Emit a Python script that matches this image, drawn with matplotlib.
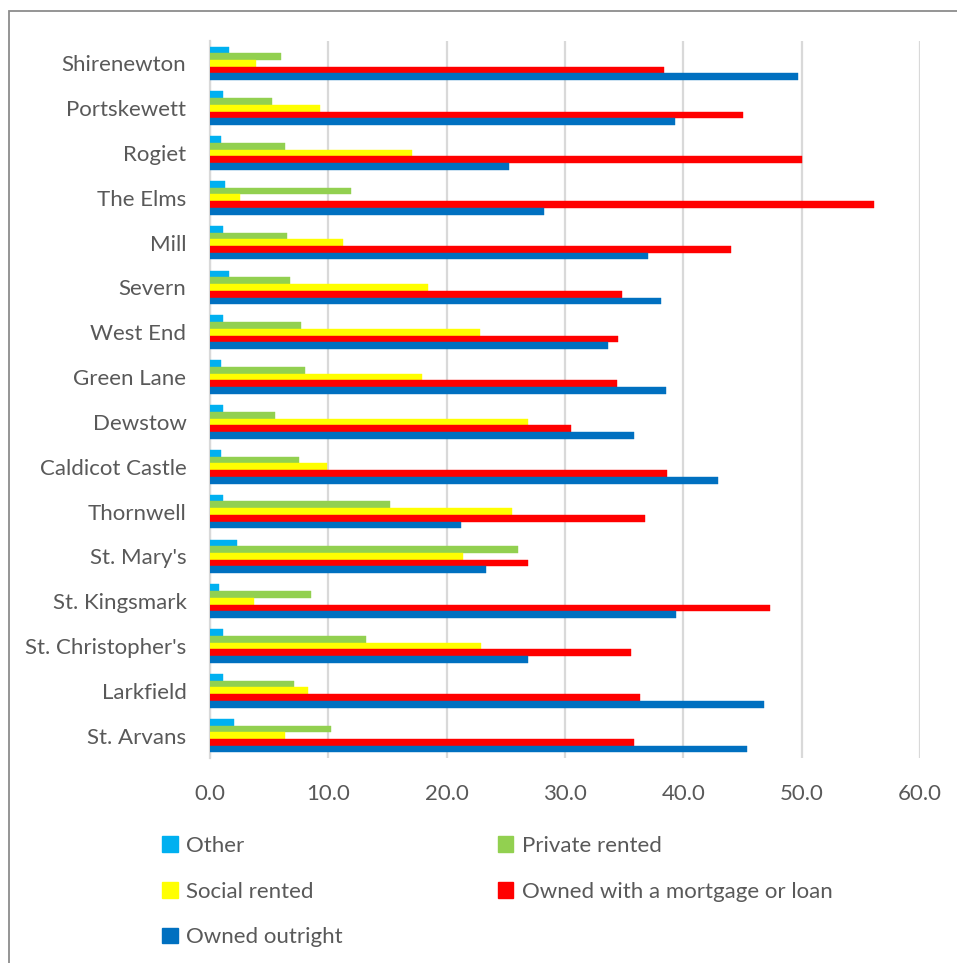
import matplotlib
matplotlib.use("Agg")
import matplotlib.pyplot as plt
import numpy as np
from matplotlib.patches import Rectangle, Patch

categories = ["Shirenewton", "Portskewett", "Rogiet", "The Elms", "Mill", "Severn",
              "West End", "Green Lane", "Dewstow", "Caldicot Castle", "Thornwell",
              "St. Mary's", "St. Kingsmark", "St. Christopher's", "Larkfield", "St. Arvans"]

other = [1.6, 1.1, 0.9, 1.3, 1.1, 1.6, 1.1, 0.9, 1.1, 0.9, 1.1, 2.3, 0.8, 1.1, 1.1, 2.0]
private_rented = [6.0, 5.2, 6.3, 11.9, 6.5, 6.8, 7.7, 8.0, 5.5, 7.5, 15.2, 26.0, 8.5, 13.2, 7.1, 10.2]
social_rented = [3.9, 9.3, 17.1, 2.5, 11.2, 18.4, 22.8, 17.9, 26.9, 9.9, 25.5, 21.4, 3.7, 22.9, 8.3, 6.3]
mortgage = [38.4, 45.0, 50.0, 56.1, 44.0, 34.8, 34.5, 34.4, 30.5, 38.6, 36.8, 26.9, 47.3, 35.6, 36.3, 35.8]
outright = [49.7, 39.3, 25.3, 28.2, 37.0, 38.1, 33.6, 38.5, 35.8, 42.9, 21.2, 23.3, 39.4, 26.9, 46.8, 45.4]

series_names = ["Other", "Private rented", "Social rented",
                "Owned with a mortgage or loan", "Owned outright"]
series_values = [other, private_rented, social_rented, mortgage, outright]
colors = ["#00B0F0", "#92D050", "#FFFF00", "#FF0000", "#0070C0"]
xticks = [0, 10, 20, 30, 40, 50, 60]

plt.rcParams['font.family'] = ['Lato', 'DejaVu Sans']
text_color = "#595959"
fs = 16

W, H = 957, 963
fig = plt.figure(figsize=(W / 100, H / 100), dpi=100)

# outer chart border
fig.patches.append(Rectangle((9 / W, -0.05), 1.2, 1 - 11 / H + 0.05,
                             transform=fig.transFigure, fill=False,
                             edgecolor="#8C8C8C", linewidth=1.3, zorder=0))

ax = fig.add_axes([210 / W, 1 - 758 / H, 710 / W, (758 - 41) / H])

n = len(categories)
y = np.arange(n)
bh = 0.15
offsets = [-2, -1, 0, 1, 2]
for vals, name, c, off in zip(series_values, series_names, colors, offsets):
    ax.barh(y + off * bh, vals, height=bh, color=c, label=name, zorder=3,
            edgecolor=c, linewidth=0.3)

ax.set_ylim(n - 0.5, -0.5)
ax.set_xlim(0, 60)
ax.set_yticks(y)
ax.set_yticklabels(categories)
ax.set_xticks(xticks)
ax.set_xticklabels([f"{t:.1f}" for t in xticks])
ax.tick_params(axis="both", length=0, labelsize=fs, colors=text_color)
ax.tick_params(axis="y", pad=17)
ax.tick_params(axis="x", pad=19)
ax.grid(axis="x", color="#D9D9D9", linewidth=1.6, zorder=0)
for s in ["top", "right", "bottom"]:
    ax.spines[s].set_visible(False)
ax.spines["left"].set_color("#D9D9D9")
ax.spines["left"].set_linewidth(1.6)

# legend (column-major order to reproduce row layout)
order = [0, 2, 4, 1, 3]
handles = [Patch(facecolor=colors[i], edgecolor=colors[i]) for i in order]
labels = [series_names[i] for i in order]
leg = fig.legend(handles, labels, ncol=2, loc="upper left",
                 bbox_to_anchor=(162 / W, 1 - 836 / H), frameon=False,
                 fontsize=fs, handlelength=0.7, handleheight=0.7,
                 handletextpad=0.4, columnspacing=6.95, labelspacing=1.15,
                 borderpad=0, borderaxespad=0)
for t in leg.get_texts():
    t.set_color(text_color)

fig.savefig("out.png", dpi=100, facecolor="white")
